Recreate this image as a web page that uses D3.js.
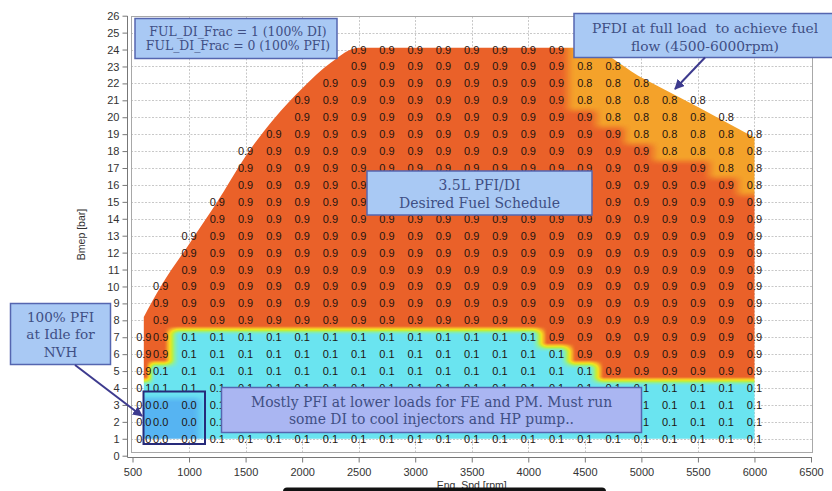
<!DOCTYPE html>
<html>
<head>
<meta charset="utf-8">
<script src="https://cdn.jsdelivr.net/npm/d3@7"></script>
<style>
  html, body { margin: 0; padding: 0; background: #fff; }
  svg { display: block; }
</style>
</head>
<body>
<svg id="chart" width="832" height="491"></svg>
<script>
// ---- data -------------------------------------------------------------
const _ = null;

// Engine speed breakpoints of the fuel schedule [rpm]
const engineSpeeds = [600, 750, 1000, 1250, 1500, 1750, 2000, 2250, 2500, 2750, 3000,
  3250, 3500, 3750, 4000, 4250, 4500, 4750, 5000, 5250, 5500, 5750, 6000];

// Load breakpoints [bar BMEP]
const bmepLevels = [1, 2, 3, 4, 5, 6, 7, 8, 9, 10, 11, 12, 13, 14, 15, 16, 17, 18, 19, 20, 21, 22, 23, 24];

// FUL_DI_Frac, one row per BMEP level (1 bar first), one column per speed
const diFraction = [
  [0.0,0.0,0.0,0.1,0.1,0.1,0.1,0.1,0.1,0.1,0.1,0.1,0.1,0.1,0.1,0.1,0.1,0.1,0.1,0.1,0.1,0.1,0.1],
  [0.0,0.0,0.0,0.1,0.1,0.1,0.1,0.1,0.1,0.1,0.1,0.1,0.1,0.1,0.1,0.1,0.1,0.1,0.1,0.1,0.1,0.1,0.1],
  [0.0,0.0,0.0,0.1,0.1,0.1,0.1,0.1,0.1,0.1,0.1,0.1,0.1,0.1,0.1,0.1,0.1,0.1,0.1,0.1,0.1,0.1,0.1],
  [0.1,0.1,0.1,0.1,0.1,0.1,0.1,0.1,0.1,0.1,0.1,0.1,0.1,0.1,0.1,0.1,0.1,0.1,0.1,0.1,0.1,0.1,0.1],
  [0.9,0.1,0.1,0.1,0.1,0.1,0.1,0.1,0.1,0.1,0.1,0.1,0.1,0.1,0.1,0.1,0.1,0.9,0.9,0.9,0.9,0.9,0.9],
  [0.9,0.9,0.1,0.1,0.1,0.1,0.1,0.1,0.1,0.1,0.1,0.1,0.1,0.1,0.1,0.1,0.9,0.9,0.9,0.9,0.9,0.9,0.9],
  [0.9,0.9,0.1,0.1,0.1,0.1,0.1,0.1,0.1,0.1,0.1,0.1,0.1,0.1,0.1,0.9,0.9,0.9,0.9,0.9,0.9,0.9,0.9],
  [ _ ,0.9,0.9,0.9,0.9,0.9,0.9,0.9,0.9,0.9,0.9,0.9,0.9,0.9,0.9,0.9,0.9,0.9,0.9,0.9,0.9,0.9,0.9],
  [ _ ,0.9,0.9,0.9,0.9,0.9,0.9,0.9,0.9,0.9,0.9,0.9,0.9,0.9,0.9,0.9,0.9,0.9,0.9,0.9,0.9,0.9,0.9],
  [ _ ,0.9,0.9,0.9,0.9,0.9,0.9,0.9,0.9,0.9,0.9,0.9,0.9,0.9,0.9,0.9,0.9,0.9,0.9,0.9,0.9,0.9,0.9],
  [ _ , _ ,0.9,0.9,0.9,0.9,0.9,0.9,0.9,0.9,0.9,0.9,0.9,0.9,0.9,0.9,0.9,0.9,0.9,0.9,0.9,0.9,0.9],
  [ _ , _ ,0.9,0.9,0.9,0.9,0.9,0.9,0.9,0.9,0.9,0.9,0.9,0.9,0.9,0.9,0.9,0.9,0.9,0.9,0.9,0.9,0.9],
  [ _ , _ ,0.9,0.9,0.9,0.9,0.9,0.9,0.9,0.9,0.9,0.9,0.9,0.9,0.9,0.9,0.9,0.9,0.9,0.9,0.9,0.9,0.9],
  [ _ , _ , _ ,0.9,0.9,0.9,0.9,0.9,0.9,0.9,0.9,0.9,0.9,0.9,0.9,0.9,0.9,0.9,0.9,0.9,0.9,0.9,0.9],
  [ _ , _ , _ ,0.9,0.9,0.9,0.9,0.9,0.9,0.9,0.9,0.9,0.9,0.9,0.9,0.9,0.9,0.9,0.9,0.9,0.9,0.9,0.9],
  [ _ , _ , _ , _ ,0.9,0.9,0.9,0.9,0.9,0.9,0.9,0.9,0.9,0.9,0.9,0.9,0.9,0.9,0.9,0.9,0.9,0.9,0.8],
  [ _ , _ , _ , _ ,0.9,0.9,0.9,0.9,0.9,0.9,0.9,0.9,0.9,0.9,0.9,0.9,0.9,0.9,0.9,0.9,0.9,0.8,0.8],
  [ _ , _ , _ , _ ,0.9,0.9,0.9,0.9,0.9,0.9,0.9,0.9,0.9,0.9,0.9,0.9,0.9,0.9,0.9,0.8,0.8,0.8,0.8],
  [ _ , _ , _ , _ , _ ,0.9,0.9,0.9,0.9,0.9,0.9,0.9,0.9,0.9,0.9,0.9,0.9,0.9,0.8,0.8,0.8,0.8,0.8],
  [ _ , _ , _ , _ , _ , _ ,0.9,0.9,0.9,0.9,0.9,0.9,0.9,0.9,0.9,0.9,0.9,0.8,0.8,0.8,0.8,0.8, _ ],
  [ _ , _ , _ , _ , _ , _ ,0.9,0.9,0.9,0.9,0.9,0.9,0.9,0.9,0.9,0.9,0.8,0.8,0.8,0.8,0.8, _ , _ ],
  [ _ , _ , _ , _ , _ , _ , _ ,0.9,0.9,0.9,0.9,0.9,0.9,0.9,0.9,0.9,0.8,0.8,0.8, _ , _ , _ , _ ],
  [ _ , _ , _ , _ , _ , _ , _ , _ ,0.9,0.9,0.9,0.9,0.9,0.9,0.9,0.9,0.8,0.8, _ , _ , _ , _ , _ ],
  [ _ , _ , _ , _ , _ , _ , _ , _ ,0.9,0.9,0.9,0.9,0.9,0.9,0.9,0.9, _ , _ , _ , _ , _ , _ , _ ]
];

// Full-load (maximum BMEP) line that bounds the schedule
const wotSpeed = [600, 750, 1000, 1250, 1500, 1750, 2000, 2250, 2500, 4500, 5000, 5500, 6000];
const wotBmep  = [8.2, 10.0, 12.5, 15.0, 17.7, 19.9, 21.7, 23.2, 24.1, 24.1, 22.35, 20.6, 18.8];

// Axis ticks
const xTicks = [500, 1000, 1500, 2000, 2500, 3000, 3500, 4000, 4500, 5000, 5500, 6000, 6500];
const yTicks = d3.range(0, 27);

// ---- layout -----------------------------------------------------------
const svg = d3.select("#chart");
const x = d3.scaleLinear().domain([500, 6500]).range([132.5, 811]);
const y = d3.scaleLinear().domain([0, 26]).range([455.7, 15.7]);
const frame = { left: 131, top: 16.5, right: 812, bottom: 452.5 };

const SANS = "'Liberation Sans', Arial, sans-serif";
const SERIF = "'DejaVu Serif', 'Liberation Serif', serif";

// colour map for the DI fraction
const colour = d3.scaleLinear()
  .domain([0.0, 0.1, 0.3, 0.5, 0.65, 0.8, 0.9])
  .range(["#56b4f2", "#6ae4f1", "#88eea6", "#c2ee3a", "#f4e01e", "#f4a22a", "#ea6129"])
  .clamp(true);

// annotation boxes: [x, y, width, height]
const notes = [
  { box: [135, 18.5, 202, 40], lines: ["FUL_DI_Frac = 1 (100% DI)", "FUL_DI_Frac = 0 (100% PFI)"],
    fill: "#a9c9f4", cx: 238, y0: 35.5, dy: 14.5, size: 12.4 },
  { box: [574, 13.5, 264, 44], lines: ["PFDI at full load  to achieve fuel", "flow (4500-6000rpm)"],
    fill: "#a9c9f4", cx: 705, y0: 32.5, dy: 18, size: 13.8 },
  { box: [367, 171, 225, 44], lines: ["3.5L PFI/DI", "Desired Fuel Schedule"],
    fill: "#a9c9f4", cx: 479.5, y0: 189.5, dy: 18, size: 14 },
  { box: [10.5, 303.5, 100, 61], lines: ["100% PFI", "at Idle for", "NVH"],
    fill: "#a9c9f4", cx: 60.5, y0: 321.5, dy: 17.5, size: 13.6 },
  { box: [221.5, 387.5, 420, 45], lines: ["Mostly PFI at lower loads for FE and PM. Must run", "some DI to cool injectors and HP pump.."],
    fill: "#aab6f2", cx: 431.5, y0: 406.5, dy: 17, size: 13.9 }
];

// ---- grid lines -------------------------------------------------------
const grid = svg.append("g").attr("stroke", "#c8c8c8").attr("stroke-width", 1)
  .attr("stroke-dasharray", "2,1.5");
grid.selectAll("line.v").data(xTicks.slice(1, -1)).join("line")
  .attr("x1", d => Math.round(x(d)) + 0.5).attr("x2", d => Math.round(x(d)) + 0.5)
  .attr("y1", frame.top).attr("y2", frame.bottom);
grid.selectAll("line.h").data(yTicks.slice(1, -1)).join("line")
  .attr("x1", frame.left).attr("x2", frame.right)
  .attr("y1", d => Math.round(y(d)) + 0.5).attr("y2", d => Math.round(y(d)) + 0.5);

// ---- colour field -----------------------------------------------------
// carry each column's highest value up to the full-load line
const field = diFraction.map(r => r.slice());
for (let i = 0; i < engineSpeeds.length; i++) {
  let last = null;
  for (let j = 0; j < field.length; j++) {
    if (field[j][i] == null) field[j][i] = last; else last = field[j][i];
  }
}
const ease = t => { const s = Math.min(1, Math.max(0, (t - 0.1) / 0.6)); return s * s * (3 - 2 * s); };
function fracAt(rpm, load) {
  const n = engineSpeeds.length;
  let i = d3.bisectRight(engineSpeeds, rpm) - 1;
  i = Math.max(0, Math.min(n - 2, i));
  const t = ease(Math.max(0, Math.min(1, (rpm - engineSpeeds[i]) / (engineSpeeds[i + 1] - engineSpeeds[i]))));
  const lc = Math.max(bmepLevels[0], Math.min(bmepLevels[bmepLevels.length - 1], load));
  const j = Math.min(Math.floor(lc) - 1, bmepLevels.length - 2);
  const u = ease(lc - bmepLevels[j]);
  const a = field[j][i] + (field[j][i + 1] - field[j][i]) * t;
  const b = field[j + 1][i] + (field[j + 1][i + 1] - field[j + 1][i]) * t;
  return a + (b - a) * u;
}

const lut = d3.range(256).map(k => d3.rgb(colour(k / 255)));
const W = 832, H = 491;
const canvas = document.createElement("canvas");
canvas.width = W; canvas.height = H;
const ctx = canvas.getContext("2d");
const img = ctx.createImageData(W, H);
const px0 = Math.floor(x(engineSpeeds[0])) - 1, px1 = Math.ceil(x(engineSpeeds[engineSpeeds.length - 1])) + 1;
const py0 = Math.floor(y(d3.max(wotBmep))) - 1, py1 = Math.ceil(y(bmepLevels[0])) + 1;
for (let py = py0; py <= py1; py++) {
  const load = y.invert(py + 0.5);
  for (let px = px0; px <= px1; px++) {
    const v = fracAt(x.invert(px + 0.5), load);
    const c = lut[Math.max(0, Math.min(255, Math.round(v * 255)))];
    const k = (py * W + px) * 4;
    img.data[k] = c.r; img.data[k + 1] = c.g; img.data[k + 2] = c.b; img.data[k + 3] = 255;
  }
}
ctx.putImageData(img, 0, 0);

const wot = wotSpeed.map((s, k) => [s, wotBmep[k]]);
const area = d3.area()
  .x(d => x(d[0]))
  .y0(y(bmepLevels[0]))
  .y1(d => y(d[1]))
  .curve(d3.curveMonotoneX);

const defs = svg.append("defs");
defs.append("clipPath").attr("id", "schedule-clip")
  .append("path").attr("d", area(wot));
defs.append("marker").attr("id", "arrowhead")
  .attr("viewBox", "0 0 10 10").attr("refX", 9).attr("refY", 5)
  .attr("markerWidth", 5).attr("markerHeight", 5).attr("orient", "auto-start-reverse")
  .append("path").attr("d", "M0,0 L10,5 L0,10 z").attr("fill", "#3d3a8e");

svg.append("image")
  .attr("x", 0).attr("y", 0).attr("width", W).attr("height", H)
  .attr("href", canvas.toDataURL())
  .attr("clip-path", "url(#schedule-clip)");

// ---- cell values ------------------------------------------------------
// values sitting wholly behind an annotation box are not drawn
const hidden = (cx, cy) => notes.some(n => {
  const [bx, by, bw, bh] = n.box;
  return cx - 8 >= bx && cx + 8 <= bx + bw && cy - 4 >= by && cy + 4 <= by + bh;
});
const cells = [];
diFraction.forEach((row, j) => row.forEach((v, i) => {
  if (v == null) return;
  const c = { rpm: engineSpeeds[i], load: bmepLevels[j], v };
  if (!hidden(x(c.rpm), y(c.load))) cells.push(c);
}));
svg.append("g")
  .attr("font-family", SANS).attr("font-size", 11).attr("fill", "#1f1511")
  .attr("text-anchor", "middle")
  .selectAll("text").data(cells).join("text")
  .attr("x", d => x(d.rpm)).attr("y", d => y(d.load)).attr("dy", "0.36em")
  .text(d => d3.format(".1f")(d.v));

// ---- frame and axes ---------------------------------------------------
svg.append("rect")
  .attr("x", frame.left + 0.5).attr("y", frame.top)
  .attr("width", frame.right - frame.left).attr("height", frame.bottom - frame.top)
  .attr("fill", "none").attr("stroke", "#a8a8a8");

const yAxis = svg.append("g").attr("transform", "translate(127.5,0)")
  .call(d3.axisLeft(y).tickValues(yTicks).tickSize(5).tickPadding(3).tickSizeOuter(0));
const xAxis = svg.append("g").attr("transform", "translate(0,457.5)")
  .call(d3.axisBottom(x).tickValues(xTicks).tickFormat(d3.format("d")).tickSize(5).tickPadding(6).tickSizeOuter(0));
[yAxis, xAxis].forEach(g => {
  g.attr("font-family", SANS).attr("font-size", 11);
  g.selectAll("path, line").attr("stroke", "#777");
  g.selectAll("text").attr("fill", "#333");
});
yAxis.select(".domain").attr("d", `M0,${frame.top - 0.5}V${457.5}`);
xAxis.select(".domain").attr("d", `M127.5,0H${frame.right}`);

svg.append("text")
  .attr("transform", `translate(85,${(frame.top + frame.bottom) / 2}) rotate(-90)`)
  .attr("text-anchor", "middle").attr("font-family", SANS).attr("font-size", 10.5).attr("fill", "#333")
  .text("Bmep [bar]");
svg.append("text")
  .attr("x", (x(500) + x(6500)) / 2).attr("y", 489)
  .attr("text-anchor", "middle").attr("font-family", SANS).attr("font-size", 10.5).attr("fill", "#333")
  .text("Eng. Spd [rpm]");
svg.append("rect").attr("x", 283).attr("y", 487.5).attr("width", 323).attr("height", 8)
  .attr("rx", 4).attr("fill", "#111");

// ---- annotations ------------------------------------------------------
notes.forEach(n => {
  const g = svg.append("g");
  g.append("rect")
    .attr("x", n.box[0]).attr("y", n.box[1]).attr("width", n.box[2]).attr("height", n.box[3])
    .attr("fill", n.fill).attr("stroke", "#5566b0").attr("stroke-width", 1.5);
  g.selectAll("text").data(n.lines).join("text")
    .attr("x", n.cx).attr("y", (d, k) => n.y0 + k * n.dy)
    .attr("text-anchor", "middle").attr("font-family", SERIF)
    .attr("font-size", n.size).attr("fill", "#3f4f84")
    .style("white-space", "pre")
    .text(d => d);
});

// idle cells outline
svg.append("rect").attr("x", 143.5).attr("y", 391.5).attr("width", 61.5).attr("height", 52.5)
  .attr("fill", "none").attr("stroke", "#262a7a").attr("stroke-width", 2);

// arrows
const arrows = [[[705, 57.5], [675, 89]], [[75, 365], [142, 416]]];
svg.append("g").selectAll("line").data(arrows).join("line")
  .attr("x1", d => d[0][0]).attr("y1", d => d[0][1])
  .attr("x2", d => d[1][0]).attr("y2", d => d[1][1])
  .attr("stroke", "#3d3a8e").attr("stroke-width", 2)
  .attr("marker-end", "url(#arrowhead)");
</script>
</body>
</html>
